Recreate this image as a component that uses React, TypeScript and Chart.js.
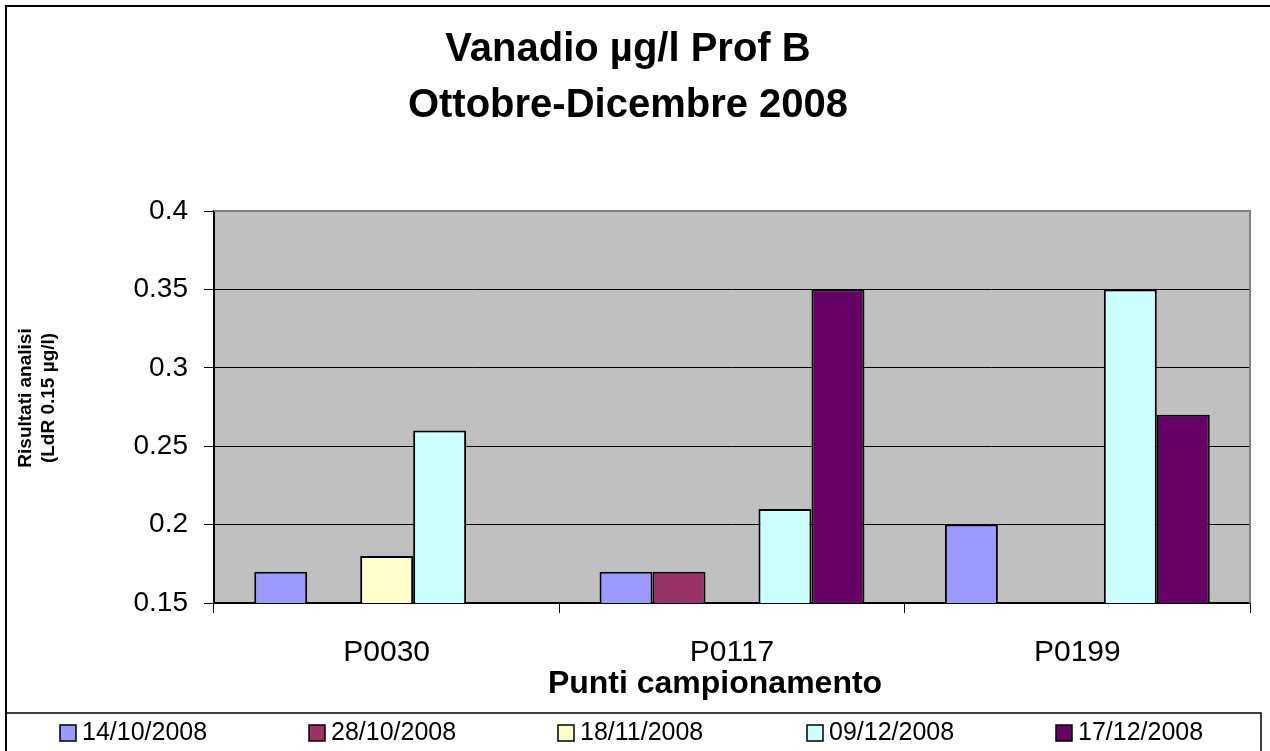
import React, { useEffect, useRef } from "react";
import { Chart, registerables } from "chart.js";

Chart.register(...registerables);

const categories = ["P0030", "P0117", "P0199"];
const seriesLabels = ["14/10/2008", "28/10/2008", "18/11/2008", "09/12/2008", "17/12/2008"];
const series1 = [0.17, 0.17, 0.2];
const series2 = [null, 0.17, null];
const series3 = [0.18, null, null];
const series4 = [0.26, 0.21, 0.35];
const series5 = [null, 0.35, 0.27];
const seriesColors = ["#9999FF", "#993366", "#FFFFCC", "#CCFFFF", "#660066"];
const titleLines = ["Vanadio µg/l Prof B", "Ottobre-Dicembre 2008"];
const yTitleLines = ["Risultati analisi", "(LdR 0.15 µg/l)"];
const xTitle = "Punti campionamento";
const yMin = 0.15;
const yMax = 0.4;
const yStep = 0.05;

const FONT = "'Liberation Sans', Arial, Helvetica, sans-serif";

const decorPlugin = {
  id: "decor",
  beforeDraw(chart: any) {
    const { ctx, chartArea: a } = chart;
    ctx.save();
    ctx.fillStyle = "#ffffff";
    ctx.fillRect(0, 0, chart.width, chart.height);
    ctx.fillStyle = "#C0C0C0";
    ctx.fillRect(a.left, a.top, a.right - a.left, a.bottom - a.top);
    ctx.restore();
  },
  afterDraw(chart: any) {
    const { ctx, chartArea: a } = chart;
    ctx.save();
    // plot area top / right border
    ctx.strokeStyle = "#808080";
    ctx.lineWidth = 2;
    ctx.beginPath();
    ctx.moveTo(a.left, a.top);
    ctx.lineTo(a.right, a.top);
    ctx.lineTo(a.right, a.bottom);
    ctx.stroke();

    // outer chart border
    ctx.strokeStyle = "#000000";
    ctx.lineWidth = 2;
    ctx.beginPath();
    ctx.moveTo(6, chart.height + 5);
    ctx.lineTo(6, 6);
    ctx.lineTo(chart.width + 5, 6);
    ctx.stroke();

    // y axis title (two rotated lines)
    ctx.fillStyle = "#000";
    ctx.font = `bold 19px ${FONT}`;
    ctx.textAlign = "center";
    ctx.textBaseline = "middle";
    yTitleLines.forEach((t, i) => {
      ctx.save();
      ctx.translate(26 + i * 23, 398);
      ctx.rotate(-Math.PI / 2);
      ctx.fillText(t, 0, 0);
      ctx.restore();
    });

    // x axis title
    ctx.font = `bold 32px ${FONT}`;
    ctx.textAlign = "center";
    ctx.textBaseline = "middle";
    ctx.fillText(xTitle, 715, 684);

    // legend box
    ctx.strokeStyle = "#000";
    ctx.lineWidth = 1.5;
    ctx.beginPath();
    ctx.moveTo(6, 713);
    ctx.lineTo(1261, 713);
    ctx.lineTo(1261, chart.height + 5);
    ctx.stroke();

    // legend items
    const ds = chart.data.datasets;
    ctx.font = `25px ${FONT}`;
    ctx.textAlign = "left";
    ctx.textBaseline = "middle";
    ds.forEach((d: any, i: number) => {
      const x = 60 + i * 249;
      ctx.fillStyle = d.backgroundColor;
      ctx.fillRect(x, 725, 16, 16);
      ctx.strokeStyle = "#000";
      ctx.lineWidth = 1.5;
      ctx.strokeRect(x, 725, 16, 16);
      ctx.fillStyle = "#000";
      ctx.fillText(d.label, x + 22, 733);
    });
    ctx.restore();
  },
};

export default function App() {
  const ref = useRef<HTMLCanvasElement | null>(null);

  useEffect(() => {
    if (!ref.current) return;
    const data = [series1, series2, series3, series4, series5];
    const chart = new Chart(ref.current, {
      type: "bar",
      data: {
        labels: categories,
        datasets: data.map((vals, i) => ({
          label: seriesLabels[i],
          data: vals as any,
          backgroundColor: seriesColors[i],
          borderColor: "#000000",
          borderWidth: 2,
          borderSkipped: false,
          categoryPercentage: 0.767,
          barPercentage: 1,
        })),
      },
      options: {
        animation: false,
        responsive: false,
        devicePixelRatio: 1,
        layout: { padding: { left: 6, right: 20, top: 0, bottom: 0 } },
        plugins: {
          legend: { display: false },
          tooltip: { enabled: false },
          title: {
            display: true,
            text: titleLines,
            color: "#000",
            font: { family: FONT, size: 40, weight: "bold", lineHeight: "56px" },
            padding: { top: 22, bottom: 77 },
          },
        },
        scales: {
          x: {
            afterFit: (s: any) => {
              s.height = 148;
            },
            grid: {
              offset: true,
              drawOnChartArea: false,
              drawTicks: true,
              tickLength: 10,
              color: "#000",
              lineWidth: 1,
            },
            border: { display: true, color: "#000", width: 2 },
            ticks: {
              color: "#000",
              font: { family: FONT, size: 30, lineHeight: 1.2 },
              padding: 22,
              maxRotation: 0,
            },
          },
          y: {
            min: yMin,
            max: yMax,
            afterFit: (s: any) => {
              s.width = 208;
            },
            grid: {
              color: "#000",
              lineWidth: 1,
              tickLength: 10,
              drawTicks: true,
            },
            border: { display: true, color: "#000", width: 2 },
            ticks: {
              stepSize: yStep,
              color: "#000",
              padding: 16,
              font: { family: FONT, size: 28 },
              callback: (v: any) => String(Number(Number(v).toFixed(2))),
            },
          },
        },
      },
      plugins: [decorPlugin],
    });
    return () => chart.destroy();
  }, []);

  return (
    <div style={{ position: "fixed", left: 0, top: 0, width: 1270, height: 751, background: "#fff" }}>
      <canvas ref={ref} width={1270} height={751} style={{ display: "block" }} />
    </div>
  );
}
